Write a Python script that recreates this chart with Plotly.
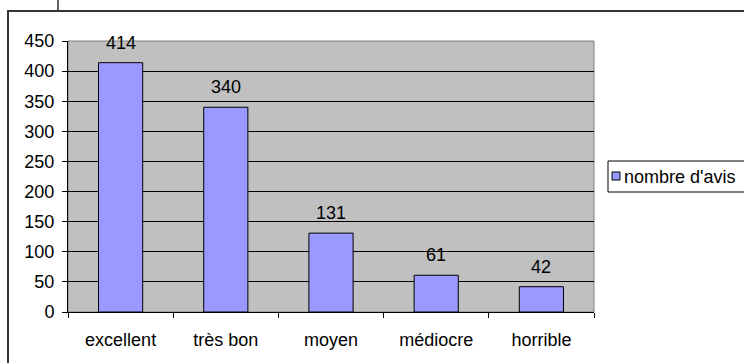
import plotly.graph_objects as go

# Avis des clients, répartis par appréciation
categories = ["excellent", "très bon", "moyen", "médiocre", "horrible"]
nombre_avis = [414, 340, 131, 61, 42]
series_name = "nombre d'avis"
y_ticks = [0, 50, 100, 150, 200, 250, 300, 350, 400, 450]

W, H = 744, 363
L, R, T, B = 68, 594, 41, 312  # plot-area edges in pixels
FONT = "Liberation Sans, Arial, sans-serif"
FS = 18


def px(x):
    return (x - L) / (R - L)


def py(y):
    return (B - y) / (B - T)


fig = go.Figure()
fig.add_trace(go.Bar(
    x=categories,
    y=nombre_avis,
    name=series_name,
    marker=dict(color="#9999FF", line=dict(color="#000000", width=1)),
    showlegend=False,
))

# value labels above each bar
for c, v in zip(categories, nombre_avis):
    fig.add_annotation(x=c, y=v, text=str(v), showarrow=False,
                       yanchor="middle", yshift=20,
                       font=dict(family=FONT, size=FS, color="#000000"))

shapes = [
    # plot-area frame
    dict(type="rect", xref="paper", yref="paper", x0=0, x1=1, y0=0, y1=1,
         line=dict(color="#808080", width=1), layer="below"),
    # chart-area frame
    dict(type="rect", xref="paper", yref="paper",
         x0=px(8), x1=px(W + 5), y0=py(H + 5), y1=py(11),
         line=dict(color="#333333", width=2)),
    dict(type="line", xref="paper", yref="paper",
         x0=px(58), x1=px(58), y0=py(-2), y1=py(11),
         line=dict(color="#333333", width=1.5)),
    # legend box and key
    dict(type="rect", xref="paper", yref="paper",
         x0=px(608), x1=px(W + 5), y0=py(192), y1=py(161),
         line=dict(color="#000000", width=1), fillcolor="#FFFFFF"),
    dict(type="rect", xref="paper", yref="paper",
         x0=px(612), x1=px(620), y0=py(180), y1=py(172),
         line=dict(color="#000000", width=1), fillcolor="#9999FF"),
]

fig.add_annotation(xref="paper", yref="paper", x=px(622), y=py(176.5),
                   xanchor="left", yanchor="middle", showarrow=False,
                   text=series_name,
                   font=dict(family=FONT, size=FS, color="#000000"))

fig.update_layout(
    width=W, height=H,
    margin=dict(l=L, r=W - R, t=T, b=H - B, pad=0),
    paper_bgcolor="#FFFFFF",
    plot_bgcolor="#C0C0C0",
    bargap=0.58,
    shapes=shapes,
    font=dict(family=FONT, size=FS, color="#000000"),
)

fig.update_xaxes(
    type="category",
    tickson="boundaries",
    ticks="outside", ticklen=5, tickcolor="#000000", tickwidth=1,
    showline=True, linecolor="#000000", linewidth=1,
    showgrid=False, zeroline=False,
    ticklabelstandoff=11,
    tickfont=dict(family=FONT, size=FS),
)
fig.update_yaxes(
    range=[0, 450],
    tickvals=y_ticks,
    ticks="outside", ticklen=5, tickcolor="#000000", tickwidth=1,
    showline=True, linecolor="#000000", linewidth=1,
    showgrid=True, gridcolor="#000000", gridwidth=1,
    zeroline=False,
    ticklabelstandoff=4,
    tickfont=dict(family=FONT, size=FS),
)

fig.write_html("out.html")
